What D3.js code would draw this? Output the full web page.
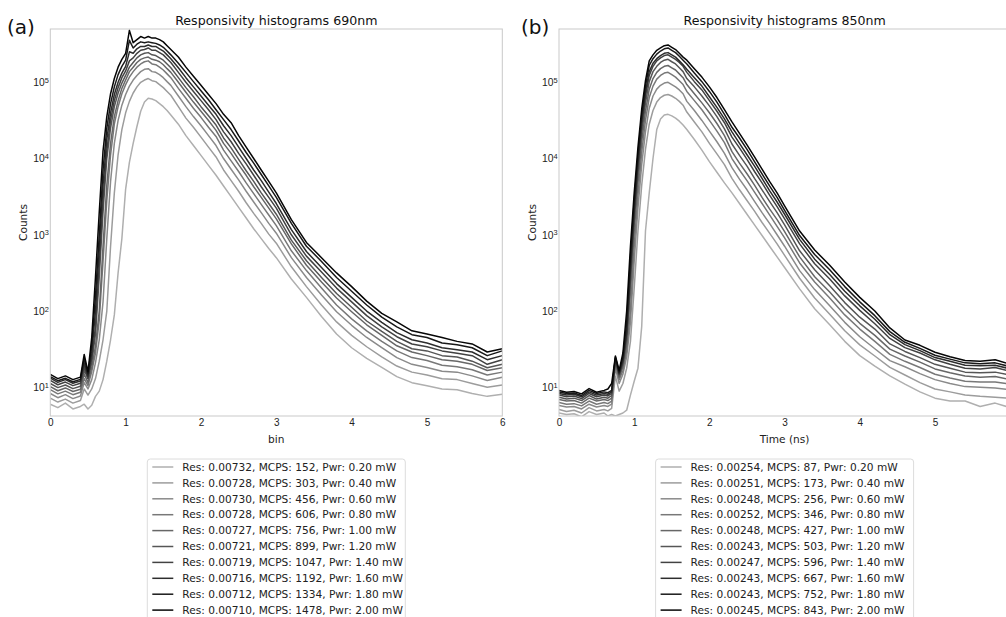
<!DOCTYPE html>
<html lang="en">
<head>
<meta charset="UTF-8">
<title>Responsivity histograms</title>
<script src="https://d3js.org/d3.v7.min.js"></script>
<style>
  body { margin: 0; background: #fff; }
  svg { display: block; font-family: "DejaVu Sans", sans-serif; }
  .xtick text { font-size: 10px; fill: #222; }
  .ytick text { font-size: 10.3px; fill: #222; }
  .axis-title { font-size: 10.6px; fill: #222; }
  .plot-title { font-size: 12.6px; fill: #111; }
  .tag { font-size: 20px; fill: #111; }
  .legend text { font-size: 10.6px; fill: #222; }
</style>
</head>
<body>
<svg width="1006" height="617"></svg>
<script>
// ---- (a) 690 nm, x = bin ----
const xA = [0,0.1,0.2,0.3,0.4,0.45,0.5,0.55,0.6,0.65,0.7,0.75,0.8,0.85,0.9,0.95,1.0,1.05,1.1,1.15,1.2,1.25,1.3,1.35,1.4,1.45,1.5,1.55,1.6,1.7,1.8,1.9,2.0,2.1,2.2,2.3,2.4,2.5,2.6,2.7,2.8,2.9,3.0,3.2,3.4,3.6,3.8,4.0,4.2,4.4,4.6,4.8,5.0,5.2,5.4,5.6,5.8,6.0];

const a690_p020 = [6.0,5.4,6.2,5.2,5.6, 6.0,5.2,5.8,7.6,8.9,12.6,22,42,89,316,891,3980,8910,15800,26300,41700,55000,61700, 60300,57500,52500,47900,42700,37200, 28200,20000,14800,11000,8130,6030,4370,3160,2290,1660,1200,891,661,501, 263,151,85,50,33,24,18.2,13.8,11.5,10.5,9.5,9.3,8.3,7.6,8.1];
const a690_p040 = [7.2,6.4,7.0,6.2,6.7, 9.5,7.9,9.5,13,22,42,100,708,3550,11200,24000,39800,56200,72400,87100,100000,107000,112000, 105000,102000,93300,85100,75900,67600, 47900,33900,25700,19100,14100,10500,7080,5130,3720,2630,1910,1410,1020,776, 380,209,120,72,48,34,25,19,15.8,14.5,12.9,12.6,11.2,10,10.7];
const a690_p060 = [8.3,7.3,8.0,7.1,7.7, 11.5,9.5,12.6,21,42,132,891,5010,15800,31600,50100,69200,89100,107000,123000,138000,148000,151000, 138000,135000,126000,115000,102000,91200, 66100,47900,35500,26900,20000,14800,10000,7240,5250,3720,2690,1950,1410,1050, 501,275,162,98,65,45,33,24.5,20,18.2,16.2,15.8,14.1,12.3,13.5];
const a690_p080 = [9.3,8.2,8.9,8.0,8.6, 13,10.5,16,28,76,447,2820,11200,28200,47900,70800,93300,117000,138000,158000,174000,186000,191000, 174000,170000,158000,145000,129000,115000, 83200,61700,45700,34700,25700,19500,12900,9330,6760,4790,3470,2510,1820,1320, 617,339,200,120,79,55,40,30,24.5,22.4,19.5,18.6,17,14.5,15.8];
const a690_p100 = [10.2,9.0,9.8,8.8,9.4, 15,11.5,18,35,100,708,4470,15800,35500,57500,83200,107000,138000,158000,182000,200000,209000,214000, 200000,195000,186000,170000,151000,135000, 100000,74100,55000,41700,31600,23400,15800,11700,8320,6030,4270,3090,2240,1620, 759,398,240,148,98,66,48,35,29,26,23,22,20,16.6,18];
const a690_p120 = [11.2,9.9,10.7,9.6,10.3, 17,13,21,50,282,2000,10000,25100,47900,72400,97700,123000,158000,182000,209000,229000,240000,245000, 229000,224000,209000,195000,174000,155000, 115000,85100,64600,47900,36300,27500,18600,13800,9770,6920,5010,3550,2570,1860, 851,457,275,170,112,74,54,40,32,30,26,25,22,18,20];
const a690_p140 = [12.3,10.8,11.7,10.5,11.3, 19,13,24,63,398,2820,12600,31600,57500,85100,115000,141000,191000,209000,240000,263000,269000,282000, 263000,263000,245000,229000,204000,182000, 135000,100000,75900,57500,43700,32400,22400,16600,11700,8510,6030,4270,3090,2240, 1000,525,324,200,132,87,62,46,37,34,30,28,26,20,23];
const a690_p160 = [13.2,11.6,12.6,11.3,12.1, 21,14,28,100,631,4470,17800,39800,69200,100000,132000,162000,251000,240000,275000,295000,295000,309000, 295000,295000,275000,257000,229000,204000, 155000,115000,87100,66100,50100,38000,26900,20000,14100,10000,7080,5130,3630,2570, 1170,603,372,229,151,100,71,52,42,38,33,31,29,23,26];
const a690_p180 = [13.8,12.2,13.1,11.8,12.7, 24,15,35,158,1000,7080,25100,52500,87100,126000,162000,195000,355000,282000,316000,339000,331000,339000, 331000,324000,309000,288000,257000,229000, 178000,135000,102000,77600,58900,43700,32400,24000,17000,12000,8710,6170,4370,3090, 1410,708,447,275,182,120,83,62,49,45,38,36,33,26,30];
const a690_p200 = [14.8,13.0,14.1,12.6,13.6, 27,16,45,282,2000,12600,35500,70800,112000,158000,200000,240000,480000,331000,363000,398000,380000,398000, 380000,380000,363000,339000,302000,269000, 215000,158000,120000,91200,69200,52500,38000,29500,20000,14100,10000,7080,5010,3550, 1580,794,501,316,209,135,93,72,55,50,45,40,37,29,32];

// ---- (b) 850 nm, x = time (ns) ----
const xB = [0,0.1,0.2,0.3,0.4,0.5,0.6,0.65,0.7,0.75,0.8,0.85,0.9,0.95,1.0,1.05,1.1,1.15,1.2,1.25,1.3,1.35,1.4,1.45,1.5,1.55,1.6,1.65,1.7,1.8,1.9,2.0,2.1,2.2,2.3,2.4,2.5,2.6,2.7,2.8,2.9,3.0,3.2,3.4,3.6,3.8,4.0,4.2,4.4,4.6,4.8,5.0,5.2,5.4,5.6,5.8,6.0];

const b850_p020 = [4.6,4.4,4.5,4.1,4.8,4.4,4.6, 4.2,4.4,4.2,4.4,4.6,5.0,7.9,12,17.8,63,1120,3550,10000,24000,33100,37200,38000, 36300,33900,30900,27500, 24000,17800,12900,9120,6610,4790,3550,2570,1860,1350,977,708,513,372, 195,107,66,40,26,19,14.1,11,8.7,7.2,6.6,6.6,5.6,6.2,5.4];
const b850_p040 = [5.1,4.8,5.0,4.6,5.4,4.9,5.1, 4.9,5.3,14,8.9,11.2,17.8,40,200,1120,4470,13200,28200,42700,55000,63100,67600,69200, 66100,61700,56200,50100, 40700,30200,22400,15800,11500,8320,5500,3890,2820,2040,1450,1050,759,537, 269,148,91,55,36,25.7,18.2,14.5,11.5,9.5,8.7,7.9,7.6,7.4,7.2];
const b850_p060 = [5.75,5.5,5.6,5.2,6.0,5.5,5.75, 5.6,6.0,17.8,11.2,14.8,25,71,447,2240,8320,22400,45700,66100,81300,91200,97700,100000, 93300,87100,79400,70800, 56200,42700,31600,22900,16600,11700,7590,5370,3890,2750,1950,1410,1000,708, 339,191,117,71,46,32,22.4,18.6,15.1,12.6,11.2,10.2,10,9.8,9.3];
const b850_p080 = [6.3,6.0,6.1,5.7,6.6,6.0,6.3, 6.1,6.6,20,12.6,16.6,30,100,708,3310,12000,31600,63100,89100,110000,123000,132000,135000, 126000,117000,105000,93300, 75900,57500,43700,31600,22900,16200,10000,7080,5130,3630,2570,1820,1290,912, 427,240,148,89,58,40,27,21.9,18.2,14.8,13.2,12,11.7,11.7,11];
const b850_p100 = [6.9,6.6,6.7,6.2,7.2,6.6,6.9, 6.7,7.2,21.4,13.5,18.6,35.5,178,1120,4790,16600,41700,81300,112000,135000,151000,162000,166000, 155000,145000,129000,115000, 93300,70800,53700,39800,28800,20000,12300,8710,6310,4470,3090,2190,1580,1100, 513,282,178,107,69,48,31.6,25.7,21.4,17.4,15.5,14.1,13.5,13.8,12.6];
const b850_p120 = [7.4,7.0,7.2,6.7,7.8,7.0,7.4, 7.2,7.8,22.4,14.1,20,41.7,251,1510,6310,21400,53700,102000,138000,162000,182000,195000,200000, 186000,174000,155000,138000, 112000,87100,66100,49000,35500,24500,15500,11000,7940,5500,3890,2750,1950,1350, 617,347,214,129,83,58,37,29.5,24.5,20,17.8,15.8,15.5,15.8,14.5];
const b850_p140 = [7.9,7.5,7.7,7.1,8.3,7.5,7.9, 7.7,8.3,23.4,14.8,21.4,50,331,1910,7940,26900,66100,123000,162000,191000,209000,224000,229000, 214000,200000,182000,162000, 135000,102000,79400,57500,41700,29500,19100,13800,9770,6760,4790,3310,2340,1620, 759,417,263,158,102,68,43.7,33.1,28.2,22.9,20,17.8,17.4,18.2,16.2];
const b850_p160 = [8.3,7.9,8.1,7.5,8.7,7.9,8.3, 8.1,8.7,24,15.1,22.4,52.5,355,2090,8910,30200,74100,138000,178000,204000,224000,240000,245000, 229000,214000,191000,170000, 148000,115000,89100,64600,46800,33100,22400,15800,11200,7940,5500,3800,2690,1860, 871,479,302,182,117,78,49,36.3,30.2,24.5,21.9,19.5,19.1,19.5,17.4];
const b850_p180 = [8.7,8.3,8.4,7.8,9.1,8.3,8.7, 8.5,9.1,25,15.8,25,70.8,501,2820,11200,37200,89100,166000,204000,234000,257000,275000,282000, 263000,245000,219000,195000, 174000,132000,102000,75900,55000,38000,25700,18600,13200,9120,6310,4370,3090,2090, 977,550,347,209,132,87,53.7,38.9,32.4,26.3,23.4,20.9,20.4,20.9,18.6];
const b850_p200 = [9.1,8.6,8.8,8.2,9.6,8.6,9.1, 9.5,11.2,25.7,16.6,28.2,100,708,3550,14100,44700,105000,191000,229000,263000,282000,302000,309000, 288000,269000,240000,214000, 195000,151000,117000,87100,63100,43700,30200,21400,15100,10500,7240,5010,3550,2400, 1120,631,398,240,151,100,60,41.7,35.5,28.8,25.1,22.4,21.9,22.9,20];

// legend values
const powers = ["0.20","0.40","0.60","0.80","1.00","1.20","1.40","1.60","1.80","2.00"];
const resA  = ["0.00732","0.00728","0.00730","0.00728","0.00727","0.00721","0.00719","0.00716","0.00712","0.00710"];
const mcpsA = [152,303,456,606,756,899,1047,1192,1334,1478];
const resB  = ["0.00254","0.00251","0.00248","0.00252","0.00248","0.00243","0.00247","0.00243","0.00243","0.00245"];
const mcpsB = [87,173,256,346,427,503,596,667,752,843];

const yTicks = [10, 100, 1e3, 1e4, 1e5];

const svg = d3.select("svg");
svg.append("rect").attr("width", 1006).attr("height", 617).attr("fill", "#fff");

const plotTop = 29, plotBottom = 416;
const y = d3.scaleLog().domain([4.2, 5e5]).range([plotBottom, plotTop]);
const grey = i => d3.interpolateGreys(0.42 + 0.56 * i / 9);

function drawPanel(o) {
  const x = d3.scaleLinear().domain([0, 6]).range([o.left, o.right]);
  const g = svg.append("g");

  g.append("clipPath").attr("id", o.id + "-clip")
    .append("rect").attr("x", o.left).attr("y", plotTop)
    .attr("width", o.right - o.left).attr("height", plotBottom - plotTop);

  const line = d3.line().x((d, i) => x(o.xs[i])).y(d => y(d));
  const lines = g.append("g").attr("clip-path", `url(#${o.id}-clip)`);
  o.series.forEach((s, i) => {
    lines.append("path")
      .attr("d", line(s))
      .attr("fill", "none")
      .attr("stroke", grey(i))
      .attr("stroke-width", 1.5)
      .attr("stroke-linejoin", "round");
  });

  // frame
  g.append("rect")
    .attr("x", o.left).attr("y", plotTop)
    .attr("width", o.right - o.left).attr("height", plotBottom - plotTop)
    .attr("fill", "none").attr("stroke", "#c9c9c9").attr("stroke-width", 1);

  // x axis
  const xa = g.append("g").attr("class", "xtick")
    .attr("transform", `translate(0,${plotBottom})`)
    .call(d3.axisBottom(x).tickValues(o.xTicks).tickSize(0).tickPadding(3).tickFormat(d3.format("d")));
  xa.select(".domain").remove();
  xa.selectAll("text").attr("font-family", null).attr("font-size", null);

  // y axis with 10^n labels
  const ya = g.append("g").attr("class", "ytick")
    .attr("transform", `translate(${o.left},0)`)
    .call(d3.axisLeft(y).tickValues(yTicks).tickSize(0).tickPadding(1.5).tickFormat(""));
  ya.select(".domain").remove();
  ya.selectAll("text").attr("font-family", null).attr("font-size", null)
    .each(function(d) {
      const t = d3.select(this);
      t.append("tspan").text("10");
      t.append("tspan").attr("dy", "-0.42em").attr("font-size", "7.4px")
        .text(Math.round(Math.log10(d)));
    });

  const cx = (o.left + o.right) / 2;
  g.append("text").attr("class", "plot-title").attr("x", cx).attr("y", 25)
    .attr("text-anchor", "middle").text(o.title);
  g.append("text").attr("class", "tag").attr("x", o.tagX).attr("y", 34).text(o.tag);
  g.append("text").attr("class", "axis-title").attr("x", cx).attr("y", 443)
    .attr("text-anchor", "middle").text(o.xLabel);
  g.append("text").attr("class", "axis-title")
    .attr("transform", `translate(${o.left - 23},${(plotTop + plotBottom) / 2}) rotate(-90)`)
    .attr("text-anchor", "middle").text("Counts");

  // legend
  const lw = 258, lx = cx - lw / 2, ly = 459, row = 15.9;
  const lg = g.append("g").attr("class", "legend");
  lg.append("rect").attr("x", lx).attr("y", ly).attr("width", lw).attr("height", 175)
    .attr("rx", 3).attr("fill", "#fff").attr("stroke", "#dcdcdc");
  o.labels.forEach((lab, i) => {
    const yy = ly + 8 + i * row;
    lg.append("line").attr("x1", lx + 5).attr("x2", lx + 26)
      .attr("y1", yy).attr("y2", yy)
      .attr("stroke", grey(i)).attr("stroke-width", 1.5);
    lg.append("text").attr("x", lx + 35).attr("y", yy).attr("dy", "0.35em").text(lab);
  });
}

drawPanel({
  id: "a", left: 50.3, right: 502.3, xs: xA,
  series: [a690_p020, a690_p040, a690_p060, a690_p080, a690_p100, a690_p120, a690_p140, a690_p160, a690_p180, a690_p200],
  xTicks: [0, 1, 2, 3, 4, 5, 6], title: "Responsivity histograms 690nm", tag: "(a)", tagX: 7, xLabel: "bin",
  labels: powers.map((p, i) => `Res: ${resA[i]}, MCPS: ${mcpsA[i]}, Pwr: ${p} mW`)
});

drawPanel({
  id: "b", left: 559, right: 1010.2, xs: xB,
  series: [b850_p020, b850_p040, b850_p060, b850_p080, b850_p100, b850_p120, b850_p140, b850_p160, b850_p180, b850_p200],
  xTicks: [0, 1, 2, 3, 4, 5], title: "Responsivity histograms 850nm", tag: "(b)", tagX: 521, xLabel: "Time (ns)",
  labels: powers.map((p, i) => `Res: ${resB[i]}, MCPS: ${mcpsB[i]}, Pwr: ${p} mW`)
});
</script>
</body>
</html>
